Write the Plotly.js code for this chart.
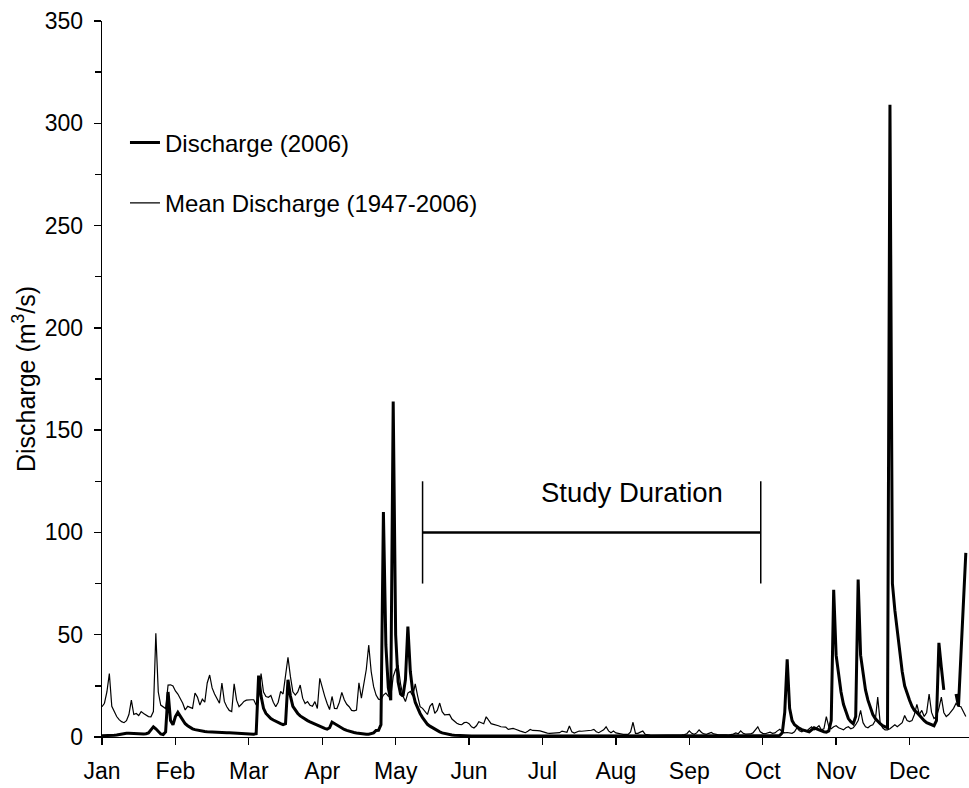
<!DOCTYPE html>
<html>
<head>
<meta charset="utf-8">
<script src="https://cdn.plot.ly/plotly-3.0.1.min.js"></script>
<style>html,body{margin:0;padding:0;background:#fff;}#chart{width:969px;height:788px;}</style>
</head>
<body>
<div id="chart"></div>
<script>
// Month tick labels (Excel-style ticks every 30 days)
const monthLabels = ['Jan','Feb','Mar','Apr','May','Jun','Jul','Aug','Sep','Oct','Nov','Dec'];
const monthTickDays = [0,30,60,90,120,150,180,210,240,270,300,330];

// Daily discharge 2006 (m3/s), day index 0 = Jan 1
const discharge2006 = [
  0.6,0.6,0.7,0.7,0.8,0.9,1.0,1.2,1.5,1.8,
  1.8,1.8,1.7,1.7,1.6,1.6,1.5,1.5,1.6,2.0,
  3.5,5,4,2.5,1.5,1.2,2.5,22,8,6,
  10,12,10,8,6.5,5.5,4.6,4.0,3.6,3.3,
  3.0,2.8,2.7,2.6,2.5,2.4,2.4,2.3,2.3,2.2,
  2.2,2.1,2.1,2.0,2.0,1.9,1.8,1.7,1.6,1.5,
  1.5,1.4,1.4,1.6,30,20,14,11.5,10,9,
  8.3,7.6,7.0,6.5,6.0,6.5,28,20,15,13,
  11.5,10.3,9.4,8.6,8.0,7.4,6.8,6.2,5.6,5.0,
  4.6,4.2,3.8,4.5,7.3,6.5,5.8,5.0,4.3,3.7,
  3.2,2.8,2.5,2.2,2.0,1.8,1.6,1.5,1.4,1.4,
  1.6,2.0,3.2,3.3,6,110,45,24,18,164,
  50,27,21,20,28,54,32,22,17,14,
  11.5,9.5,7.5,6.2,5.3,4.5,3.7,3.1,2.5,2.0,
  1.7,1.4,1.2,1.0,0.9,0.8,0.7,0.65,0.6,0.55,
  0.5,0.5,0.5,0.5,0.5,0.45,0.45,0.45,0.45,0.45,
  0.45,0.4,0.4,0.4,0.4,0.4,0.4,0.4,0.4,0.4,
  0.4,0.4,0.4,0.4,0.4,0.35,0.35,0.35,0.35,0.35,
  0.35,0.35,0.35,0.35,0.35,0.35,0.35,0.35,0.35,0.35,
  0.35,0.35,0.35,0.35,0.35,0.35,0.35,0.35,0.35,0.35,
  0.3,0.3,0.3,0.3,0.3,0.3,0.3,0.3,0.3,0.3,
  0.3,0.3,0.3,0.3,0.3,0.3,0.3,0.3,0.3,0.3,
  0.3,0.3,0.3,0.3,0.3,0.3,0.3,0.3,0.3,0.3,
  0.3,0.3,0.3,0.3,0.3,0.3,0.3,0.3,0.3,0.3,
  0.3,0.3,0.3,0.3,0.3,0.3,0.3,0.3,0.3,0.3,
  0.3,0.3,0.3,0.3,0.3,0.3,0.3,0.3,0.3,0.3,
  0.3,0.3,0.3,0.3,0.3,0.3,0.3,0.3,0.3,0.3,
  0.35,0.4,0.4,0.45,0.5,0.5,0.6,0.8,2,12,
  38,14,8,6,5,4.2,3.6,3.1,2.7,2.5,
  3.5,4.5,4.0,3.5,3.0,2.6,2.4,3.0,8,72,
  40,30,22,16,12,9,7.5,6.5,10,77,
  40,30,23,18,14,11,9,7.5,6.5,5.5,
  5,4.5,309,75,62,52,40,32,25,21,
  18,15,13,12,10.5,9,8,7,6.5,6,
  5.5,8,46,34,23,null,null,null,null,21,
  15,40,65,90
];

// Daily mean discharge 1947-2006 (m3/s)
const meanDischarge = [
  14.8,16.5,22,31,15,12.4,10,8.5,7.5,7,
  8,11,18,11,11.5,10.5,12.4,11.5,10.8,10,
  9.9,12.4,50.7,22,15.6,14.8,13.9,25.4,25.5,24.9,
  22.5,21,19,16.5,13.2,15,14.5,14,21.5,19.5,
  15.6,18.5,17,26.4,30.3,24,21,19,16.5,26.4,
  17.4,14.8,13,12.4,26,18,14.8,16,17.4,18,
  18.2,18.2,18.2,15.6,20,31,22,19.8,19.4,20.3,
  17,14.8,17,22.3,21,30,39,29.5,22.1,20.5,
  22,25.4,19,16.4,17.3,15.5,15,17.3,13.9,28.7,
  24,20,16.4,13.4,19.8,14,13.9,17,21.8,18.2,
  16,14.8,13,12.8,13.2,26.5,19,25.4,33,45,
  32,24.6,20.5,18.5,18.2,20.5,21.5,20,19.8,29.5,
  33,35,26,20,17.3,21.5,22.3,20,26,20,
  14.8,14,12.4,11,15,16.5,11.5,13,16.6,12.4,
  10.8,10.8,11,8.8,7.5,6.7,6.2,6,7,7.2,
  6.5,5,4.4,5.5,7.5,7,6.5,9.9,8,6.5,
  6.2,6,5.5,5,5,4.8,3.7,4,4.2,3.8,
  3.2,2.9,2.5,2.1,2.8,3.7,3.2,3,3.1,3,
  2.6,2.1,1.9,1.8,1.8,1.8,2,2.1,2.9,2.5,
  2.3,5.4,2.5,1.9,2.4,2.9,2.8,2.9,2.9,2.9,
  3.3,3.7,2.6,2.1,2.9,3.5,5,3,2.1,2.9,
  2,1.7,1.4,1.3,1.3,1.3,2.5,7.2,1.8,1.8,
  2.4,2.9,1.3,1,0.9,0.8,0.8,0.9,1,0.9,
  0.8,0.8,0.9,1,1.1,1,0.9,1,1.2,1.6,
  3,1.8,1.3,2,3.5,2.2,1.5,1.3,1.8,2.2,
  1.5,1.2,1,1,1.1,1,0.9,1,1.4,2,
  1.6,3,1.8,1.4,1.3,1.5,2,3.5,5,2.5,
  1.8,1.6,2,2.4,1.8,2,3,3.8,2.5,2,
  2.2,2,1.8,2.5,4.5,3,2.5,3.5,3,4,
  5,3.5,4.5,5.5,3.5,4,10,5,4,5,
  5.5,4.5,4,3.5,4.5,5,4,4.5,6,8,
  13,7,5,4.5,5.5,6,8,19.5,7,4.5,
  3.5,3.5,4,5,6,5,6,7,10.5,8,
  7.5,8,11,16,11,13,10,12,21,12,
  9,10,14,19.5,12,10,11,12.4,14,16.5,
  15,14.8,12,10
];

// Study duration bracket (day index and discharge level)
const studyStartDay = 131;
const studyEndDay = 269.2;
const studyLevel = 100;
const studyBarLow = 75;
const studyBarHigh = 125;
const studyLabel = 'Study Duration';

const days = discharge2006.map((_, i) => i);

const traces = [
  {
    x: days, y: discharge2006, type: 'scatter', mode: 'lines',
    name: 'Discharge (2006)', legendgroup: 'a',
    line: {color: 'black', width: 3}, connectgaps: false,
    hoverinfo: 'skip'
  },
  {
    x: days, y: meanDischarge, type: 'scatter', mode: 'lines',
    name: 'Mean Discharge (1947-2006)', legendgroup: 'b',
    line: {color: 'black', width: 1.2},
    hoverinfo: 'skip'
  }
];

const axisCommon = {
  showline: true, linecolor: 'black', linewidth: 1.3,
  ticks: 'outside', ticklen: 7, tickwidth: 1.3, tickcolor: 'black',
  showgrid: false, zeroline: false,
  tickfont: {size: 23, color: 'black'}
};

const layout = {
  width: 969, height: 788,
  margin: {l: 102, r: 0, t: 21, b: 51},
  paper_bgcolor: 'white', plot_bgcolor: 'white',
  font: {family: 'Liberation Sans, Arial, Helvetica, sans-serif', color: 'black', size: 23},
  xaxis: Object.assign({}, axisCommon, {
    range: [0, 354.3], tickmode: 'array',
    tickvals: monthTickDays, ticktext: monthLabels,
    ticklabelstandoff: 6
  }),
  yaxis: Object.assign({}, axisCommon, {
    range: [0, 350], tick0: 0, dtick: 50,
    minor: {dtick: 25, ticks: 'outside', ticklen: 6, tickwidth: 1.3, tickcolor: 'black', showgrid: false},
    ticklabelstandoff: 6,
    title: {text: 'Discharge (m<sup>3</sup>/s)', font: {size: 25, color: 'black'}, standoff: 2}
  }),
  showlegend: true,
  legend: {
    x: 0.0265, y: 0.861, xanchor: 'left', yanchor: 'top',
    bgcolor: 'rgba(0,0,0,0)', borderwidth: 0,
    font: {size: 24, color: 'black'},
    tracegroupgap: 26, itemwidth: 30
  },
  shapes: [
    {type: 'line', xref: 'x', yref: 'y', x0: studyStartDay, x1: studyEndDay, y0: studyLevel, y1: studyLevel, line: {color: 'black', width: 2.4}},
    {type: 'line', xref: 'x', yref: 'y', x0: studyStartDay, x1: studyStartDay, y0: studyBarLow, y1: studyBarHigh, line: {color: 'black', width: 1.5}},
    {type: 'line', xref: 'x', yref: 'y', x0: studyEndDay, x1: studyEndDay, y0: studyBarLow, y1: studyBarHigh, line: {color: 'black', width: 1.5}}
  ],
  annotations: [
    {text: studyLabel, xref: 'x', yref: 'y', x: 216.6, y: 119.3, showarrow: false,
     font: {size: 27.5, color: 'black'}, xanchor: 'center', yanchor: 'middle'}
  ]
};

Plotly.newPlot('chart', traces, layout, {displayModeBar: false, staticPlot: true});
</script>
</body>
</html>
